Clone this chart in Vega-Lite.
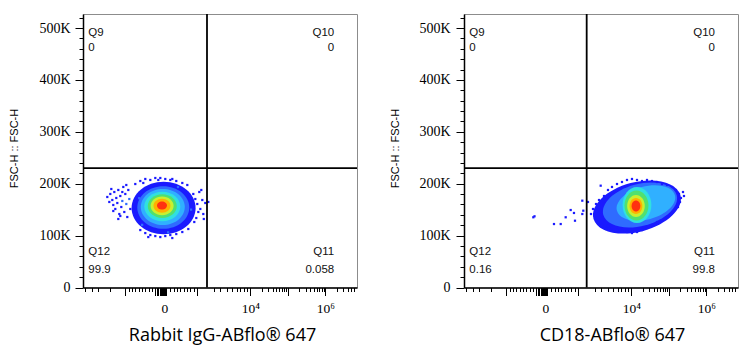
{
  "$schema": "https://vega.github.io/schema/vega-lite/v6.json",
  "background": "white",
  "padding": {"left": 8, "top": 10, "right": 5, "bottom": 5},
  "config": {
    "view": {"stroke": "#8c8c8c", "strokeWidth": 1},
    "axis": {"grid": false}
  },
  "resolve": {"scale": {"size": "independent", "color": "independent"}},
  "spacing": 107,
  "bounds": "flush",
  "datasets": {
    "blobL": [
      {"x": 301.2, "y": 153200, "level": 1},
      {"x": 300, "y": 154200, "level": 2},
      {"x": 298.2, "y": 155100, "level": 3},
      {"x": 296.3, "y": 156100, "level": 4},
      {"x": 296.3, "y": 157000, "level": 5},
      {"x": 295.6, "y": 157400, "level": 6},
      {"x": 295.2, "y": 157600, "level": 7},
      {"x": 295.2, "y": 158000, "level": 8}
    ],
    "dotsL": [
      {"x": 90.8, "y": 174400, "level": 1}, {"x": 98.3, "y": 164800, "level": 1}, {"x": 102, "y": 180200, "level": 1},
      {"x": 109.5, "y": 168600, "level": 1}, {"x": 113.2, "y": 159000, "level": 1}, {"x": 117, "y": 184000, "level": 1},
      {"x": 120.7, "y": 151300, "level": 1}, {"x": 124.4, "y": 172500, "level": 1}, {"x": 128.2, "y": 162800, "level": 1},
      {"x": 131.9, "y": 187900, "level": 1}, {"x": 135.7, "y": 141600, "level": 1}, {"x": 139.4, "y": 176300, "level": 1},
      {"x": 143.1, "y": 155100, "level": 1}, {"x": 146.9, "y": 166700, "level": 2}, {"x": 150.6, "y": 193700, "level": 1},
      {"x": 154.3, "y": 145500, "level": 1}, {"x": 158.1, "y": 180200, "level": 1}, {"x": 161.8, "y": 160900, "level": 2},
      {"x": 165.5, "y": 135800, "level": 1}, {"x": 169.3, "y": 187900, "level": 1}, {"x": 173, "y": 170500, "level": 2},
      {"x": 176.8, "y": 151300, "level": 1}, {"x": 105.8, "y": 189800, "level": 1}, {"x": 131.9, "y": 132000, "level": 1},
      {"x": 146.9, "y": 184000, "level": 1}, {"x": 161.8, "y": 197500, "level": 1}, {"x": 113.2, "y": 147400, "level": 1},
      {"x": 139.4, "y": 137800, "level": 1},
      {"x": 195.4, "y": 199400, "level": 1}, {"x": 214.1, "y": 205200, "level": 1}, {"x": 232.8, "y": 209100, "level": 1},
      {"x": 251.5, "y": 207200, "level": 1}, {"x": 270.2, "y": 211000, "level": 1}, {"x": 288.9, "y": 211000, "level": 1},
      {"x": 307.5, "y": 209100, "level": 1}, {"x": 326.2, "y": 207200, "level": 1}, {"x": 348.6, "y": 205200, "level": 1},
      {"x": 371.1, "y": 201400, "level": 1}, {"x": 389.8, "y": 197500, "level": 1}, {"x": 225.3, "y": 201400, "level": 1},
      {"x": 281.4, "y": 207200, "level": 1}, {"x": 333.7, "y": 209100, "level": 1},
      {"x": 412.2, "y": 180200, "level": 1}, {"x": 419.7, "y": 170500, "level": 1}, {"x": 427.1, "y": 160900, "level": 1},
      {"x": 434.6, "y": 184000, "level": 1}, {"x": 438.4, "y": 151300, "level": 1}, {"x": 445.8, "y": 168600, "level": 1},
      {"x": 449.6, "y": 141600, "level": 1}, {"x": 457, "y": 162800, "level": 1}, {"x": 468.3, "y": 164800, "level": 1},
      {"x": 423.4, "y": 133900, "level": 1}, {"x": 430.9, "y": 145500, "level": 1}, {"x": 442.1, "y": 187900, "level": 1},
      {"x": 415.9, "y": 126200, "level": 1}, {"x": 451.5, "y": 132000, "level": 1},
      {"x": 214.1, "y": 110700, "level": 1}, {"x": 232.8, "y": 104900, "level": 1}, {"x": 251.5, "y": 101100, "level": 1},
      {"x": 270.2, "y": 99100, "level": 1}, {"x": 288.9, "y": 97200, "level": 1}, {"x": 307.5, "y": 99100, "level": 1},
      {"x": 326.2, "y": 101100, "level": 1}, {"x": 348.6, "y": 103000, "level": 1}, {"x": 371.1, "y": 106900, "level": 1},
      {"x": 393.5, "y": 112700, "level": 1}, {"x": 244, "y": 97200, "level": 1}, {"x": 333.7, "y": 95300, "level": 1},
      {"x": 404, "y": 150100, "level": 2}, {"x": 396, "y": 171000, "level": 1}, {"x": 355, "y": 193500, "level": 2},
      {"x": 262, "y": 196300, "level": 1}, {"x": 210, "y": 172100, "level": 2}, {"x": 198, "y": 146200, "level": 1},
      {"x": 221, "y": 120700, "level": 2}, {"x": 318, "y": 106300, "level": 2}, {"x": 386, "y": 122500, "level": 1}
    ],
    "blobR": [
      {"x": 646.5, "y": 155100, "level": 1},
      {"x": 657.7, "y": 159000, "level": 2},
      {"x": 680.1, "y": 162800, "level": 3},
      {"x": 646.5, "y": 159000, "level": 4},
      {"x": 644.6, "y": 158000, "level": 5},
      {"x": 642.7, "y": 157000, "level": 6},
      {"x": 642.7, "y": 157000, "level": 7},
      {"x": 642.7, "y": 157000, "level": 8}
    ],
    "dotsR": [
      {"x": 474.6, "y": 141600, "level": 1}, {"x": 482.1, "y": 151300, "level": 1}, {"x": 489.5, "y": 132000, "level": 1},
      {"x": 493.3, "y": 160900, "level": 1}, {"x": 500.8, "y": 126200, "level": 1}, {"x": 508.2, "y": 145500, "level": 1},
      {"x": 515.7, "y": 120400, "level": 1}, {"x": 504.5, "y": 168600, "level": 1}, {"x": 523.2, "y": 176300, "level": 1},
      {"x": 530.7, "y": 112700, "level": 1},
      {"x": 538.1, "y": 187900, "level": 1}, {"x": 553.1, "y": 193700, "level": 1}, {"x": 571.8, "y": 199400, "level": 1},
      {"x": 590.4, "y": 203300, "level": 1}, {"x": 609.1, "y": 207200, "level": 1}, {"x": 627.8, "y": 209100, "level": 1},
      {"x": 646.5, "y": 207200, "level": 1}, {"x": 665.2, "y": 205200, "level": 1}, {"x": 683.9, "y": 207200, "level": 1},
      {"x": 702.6, "y": 205200, "level": 1}, {"x": 721.2, "y": 203300, "level": 1}, {"x": 739.9, "y": 199400, "level": 1},
      {"x": 758.6, "y": 197500, "level": 1}, {"x": 777.3, "y": 193700, "level": 1},
      {"x": 792.2, "y": 187900, "level": 1}, {"x": 803.5, "y": 180200, "level": 1}, {"x": 810.9, "y": 172500, "level": 1},
      {"x": 818.4, "y": 184000, "level": 1}, {"x": 807.2, "y": 164800, "level": 1}, {"x": 799.7, "y": 155100, "level": 1},
      {"x": 822.1, "y": 176300, "level": 1},
      {"x": 777.3, "y": 143600, "level": 1}, {"x": 758.6, "y": 135800, "level": 1}, {"x": 739.9, "y": 130000, "level": 1},
      {"x": 721.2, "y": 126200, "level": 1}, {"x": 702.6, "y": 120400, "level": 1}, {"x": 683.9, "y": 114600, "level": 1},
      {"x": 665.2, "y": 110700, "level": 1}, {"x": 646.5, "y": 106900, "level": 1}, {"x": 627.8, "y": 104900, "level": 1},
      {"x": 609.1, "y": 106900, "level": 1}, {"x": 590.4, "y": 108800, "level": 1}, {"x": 571.8, "y": 110700, "level": 1},
      {"x": 553.1, "y": 114600, "level": 1}, {"x": 538.1, "y": 118400, "level": 1},
      {"x": 259, "y": 135300, "level": 1}, {"x": 263.5, "y": 137200, "level": 1}, {"x": 336.3, "y": 122300, "level": 1},
      {"x": 361.4, "y": 122300, "level": 1}, {"x": 380, "y": 135300, "level": 1}, {"x": 398.7, "y": 149300, "level": 1},
      {"x": 411, "y": 143600, "level": 1}, {"x": 414.8, "y": 128700, "level": 1}, {"x": 442.1, "y": 167300, "level": 1},
      {"x": 442.1, "y": 141600, "level": 1}, {"x": 445.8, "y": 148000, "level": 1}, {"x": 463.4, "y": 164800, "level": 1},
      {"x": 510.8, "y": 196200, "level": 1}
    ],
    "labL": [
      {"x": 20, "y": 490400, "t": "Q9", "side": "l"}, {"x": 20, "y": 461400, "t": "0", "side": "l"},
      {"x": 939, "y": 490400, "t": "Q10", "side": "r"}, {"x": 939, "y": 461400, "t": "0", "side": "r"},
      {"x": 20, "y": 68400, "t": "Q12", "side": "l"}, {"x": 20, "y": 33700, "t": "99.9", "side": "l"},
      {"x": 939, "y": 68400, "t": "Q11", "side": "r"}, {"x": 939, "y": 33700, "t": "0.058", "side": "r"}
    ],
    "labR": [
      {"x": 20, "y": 490400, "t": "Q9", "side": "l"}, {"x": 20, "y": 461400, "t": "0", "side": "l"},
      {"x": 938, "y": 490400, "t": "Q10", "side": "r"}, {"x": 938, "y": 461400, "t": "0", "side": "r"},
      {"x": 20, "y": 68400, "t": "Q12", "side": "l"}, {"x": 20, "y": 33700, "t": "0.16", "side": "l"},
      {"x": 938, "y": 68400, "t": "Q11", "side": "r"}, {"x": 938, "y": 33700, "t": "99.8", "side": "r"}
    ]
  },
  "hconcat": [
    {
      "width": 274,
      "height": 273.5,
      "encoding": {
        "x": {
          "field": "x", "type": "quantitative",
          "scale": {"domain": [0, 1024], "nice": false, "zero": false},
          "axis": {
            "values": [8.6,33.6,57.2,102,158.1,170.4,183.1,195.4,207.8,220.5,232.8,245.1,257.9,270.9,276.5,282.1,287.7,291.5,295.2,299,303.8,308.3,312,326.2,338.6,351.3,363.6,375.9,388.6,401,413.3,426,488,513.1,538.1,556.8,575.5,587.8,600.2,612.9,625.2,667.4,692.1,709.7,723.1,734.3,743.7,751.9,759,765.3,807.6,832.2,849.8,863.2,874.5,883.8,892,899.1,905.5,947.7,972.4,989.9,1003.4,1014.6],
            "labelExpr": "datum.value == 303.8 ? '0' : datum.value == 625.2 ? '10⁴' : datum.value == 905.5 ? '10⁶' : ''",
            "tickSize": {"condition": {"test": "(datum.value > 268 && datum.value < 316) || datum.value == 158.1 || datum.value == 426 || datum.value == 625.2 || datum.value == 765.3 || datum.value == 905.5", "value": 8}, "value": 4},
            "tickColor": "#000", "tickWidth": 1, "domainColor": "#000", "domainWidth": 1.5,
            "labelFont": "Liberation Serif", "labelFontSize": 13.5, "labelColor": "#000", "labelPadding": 6,
            "labelOverlap": false, "labelFlush": false,
            "title": "Rabbit IgG-ABflo® 647", "titleFont": "Open Sans", "titleFontSize": 18, "titleFontWeight": "normal",
            "titleColor": "#000", "titleX": 139, "titleY": 53, "titleBaseline": "alphabetic"
          }
        },
        "y": {
          "field": "y", "type": "quantitative",
          "scale": {"domain": [0, 527000], "nice": false, "zero": false},
          "axis": {
            "values": [0,20000,40000,60000,80000,100000,120000,140000,160000,180000,200000,220000,240000,260000,280000,300000,320000,340000,360000,380000,400000,420000,440000,460000,480000,500000,520000],
            "labelExpr": "datum.value % 100000 == 0 ? (datum.value == 0 ? '0' : (datum.value / 1000) + 'K') : ''",
            "tickSize": {"condition": {"test": "datum.value % 100000 == 0", "value": 8}, "value": 4},
            "tickColor": "#000", "tickWidth": 1, "domainColor": "#000", "domainWidth": 1.5,
            "labelFont": "Liberation Serif", "labelFontSize": 14, "labelColor": "#000", "labelPadding": 5,
            "labelOverlap": false, "labelFlush": false,
            "title": "FSC-H :: FSC-H", "titleFont": "Liberation Sans", "titleFontSize": 11, "titleFontWeight": "normal",
            "titleColor": "#000", "titleX": -68.5, "titleY": 134, "titleBaseline": "middle"
          }
        }
      },
      "layer": [
        {
          "data": {"name": "blobL"},
          "mark": {"type": "point", "filled": true, "opacity": 1, "strokeWidth": 0, "shape": "M -1 0 A 1 0.82 0 1 1 1 0 A 1 0.82 0 1 1 -1 0 Z"},
          "encoding": {
            "size": {"field": "level", "type": "quantitative", "legend": null, "scale": {"type": "threshold", "domain": [1.5,2.5,3.5,4.5,5.5,6.5,7.5], "range": [4096,2704,1936,1296,841,529,289,100]}},
            "color": {"field": "level", "type": "quantitative", "legend": null, "scale": {"type": "threshold", "domain": [1.5,2.5,3.5,4.5,5.5,6.5,7.5], "range": ["#1a1aff","#2f6bff","#30b0ff","#30e0e0","#50e070","#c8f030","#ffb000","#ff3010"]}}
          }
        },
        {
          "data": {"name": "dotsL"},
          "mark": {"type": "square", "size": 5, "opacity": 1},
          "encoding": {
            "color": {"field": "level", "type": "quantitative", "legend": null, "scale": {"type": "threshold", "domain": [1.5,2.5,3.5,4.5,5.5,6.5,7.5], "range": ["#1a1aff","#2f6bff","#30b0ff","#30e0e0","#50e070","#c8f030","#ffb000","#ff3010"]}}
          }
        },
        {
          "data": {"values": [{"x": 463.4, "y": 0, "y2": 527000}]},
          "mark": {"type": "rule", "color": "#000", "strokeWidth": 1.8},
          "encoding": {"y2": {"field": "y2"}}
        },
        {
          "data": {"values": [{"x": 0, "x2": 1024, "y": 230000}]},
          "mark": {"type": "rule", "color": "#000", "strokeWidth": 1.8},
          "encoding": {"x2": {"field": "x2"}}
        },
        {
          "data": {"name": "labL"},
          "transform": [{"filter": "datum.side == 'l'"}],
          "mark": {"type": "text", "align": "left", "baseline": "middle", "font": "Liberation Sans", "fontSize": 11.5, "color": "#111"},
          "encoding": {"text": {"field": "t"}}
        },
        {
          "data": {"name": "labL"},
          "transform": [{"filter": "datum.side == 'r'"}],
          "mark": {"type": "text", "align": "right", "baseline": "middle", "font": "Liberation Sans", "fontSize": 11.5, "color": "#111"},
          "encoding": {"text": {"field": "t"}}
        }
      ]
    },
    {
      "width": 274,
      "height": 273.5,
      "encoding": {
        "x": {
          "field": "x", "type": "quantitative",
          "scale": {"domain": [0, 1024], "nice": false, "zero": false},
          "axis": {
            "values": [8.6,33.6,57.2,102,158.1,170.4,183.1,195.4,207.8,220.5,232.8,245.1,257.9,270.9,276.5,282.1,287.7,291.5,295.2,299,303.8,308.3,312,326.2,338.6,351.3,363.6,375.9,388.6,401,413.3,426,488,513.1,538.1,556.8,575.5,587.8,600.2,612.9,625.2,667.4,692.1,709.7,723.1,734.3,743.7,751.9,759,765.3,807.6,832.2,849.8,863.2,874.5,883.8,892,899.1,905.5,947.7,972.4,989.9,1003.4,1014.6],
            "labelExpr": "datum.value == 303.8 ? '0' : datum.value == 625.2 ? '10⁴' : datum.value == 905.5 ? '10⁶' : ''",
            "tickSize": {"condition": {"test": "(datum.value > 268 && datum.value < 316) || datum.value == 158.1 || datum.value == 426 || datum.value == 625.2 || datum.value == 765.3 || datum.value == 905.5", "value": 8}, "value": 4},
            "tickColor": "#000", "tickWidth": 1, "domainColor": "#000", "domainWidth": 1.5,
            "labelFont": "Liberation Serif", "labelFontSize": 13.5, "labelColor": "#000", "labelPadding": 6,
            "labelOverlap": false, "labelFlush": false,
            "title": "CD18-ABflo® 647", "titleFont": "Open Sans", "titleFontSize": 18, "titleFontWeight": "normal",
            "titleColor": "#000", "titleX": 148, "titleY": 53, "titleBaseline": "alphabetic"
          }
        },
        "y": {
          "field": "y", "type": "quantitative",
          "scale": {"domain": [0, 527000], "nice": false, "zero": false},
          "axis": {
            "values": [0,20000,40000,60000,80000,100000,120000,140000,160000,180000,200000,220000,240000,260000,280000,300000,320000,340000,360000,380000,400000,420000,440000,460000,480000,500000,520000],
            "labelExpr": "datum.value % 100000 == 0 ? (datum.value == 0 ? '0' : (datum.value / 1000) + 'K') : ''",
            "tickSize": {"condition": {"test": "datum.value % 100000 == 0", "value": 8}, "value": 4},
            "tickColor": "#000", "tickWidth": 1, "domainColor": "#000", "domainWidth": 1.5,
            "labelFont": "Liberation Serif", "labelFontSize": 14, "labelColor": "#000", "labelPadding": 6,
            "labelOverlap": false, "labelFlush": false,
            "title": "FSC-H :: FSC-H", "titleFont": "Liberation Sans", "titleFontSize": 11, "titleFontWeight": "normal",
            "titleColor": "#000", "titleX": -68.5, "titleY": 134, "titleBaseline": "middle"
          }
        }
      },
      "layer": [
        {
          "data": {"name": "blobR"},
          "transform": [{"filter": "datum.level <= 3"}],
          "mark": {"type": "point", "filled": true, "opacity": 1, "strokeWidth": 0, "angle": 345, "shape": "M -1 0 A 1 0.55 0 1 1 1 0 A 1 0.55 0 1 1 -1 0 Z"},
          "encoding": {
            "size": {"field": "level", "type": "quantitative", "legend": null, "scale": {"type": "threshold", "domain": [1.5,2.5,3.5,4.5,5.5,6.5,7.5], "range": [8100,5776,3600,1296,900,484,256,121]}},
            "color": {"field": "level", "type": "quantitative", "legend": null, "scale": {"type": "threshold", "domain": [1.5,2.5,3.5,4.5,5.5,6.5,7.5], "range": ["#1a1aff","#2f6bff","#30b0ff","#30e0e0","#50e070","#c8f030","#ffb000","#ff3010"]}}
          }
        },
        {
          "data": {"name": "blobR"},
          "transform": [{"filter": "datum.level > 3"}],
          "mark": {"type": "point", "filled": true, "opacity": 1, "strokeWidth": 0, "shape": "M 0 -1 A 0.8 1 0 1 1 0 1 A 0.8 1 0 1 1 0 -1 Z"},
          "encoding": {
            "size": {"field": "level", "type": "quantitative", "legend": null, "scale": {"type": "threshold", "domain": [1.5,2.5,3.5,4.5,5.5,6.5,7.5], "range": [8100,5776,3600,1296,900,484,256,121]}},
            "color": {"field": "level", "type": "quantitative", "legend": null, "scale": {"type": "threshold", "domain": [1.5,2.5,3.5,4.5,5.5,6.5,7.5], "range": ["#1a1aff","#2f6bff","#30b0ff","#30e0e0","#50e070","#c8f030","#ffb000","#ff3010"]}}
          }
        },
        {
          "data": {"name": "dotsR"},
          "mark": {"type": "square", "size": 5, "opacity": 1},
          "encoding": {
            "color": {"field": "level", "type": "quantitative", "legend": null, "scale": {"type": "threshold", "domain": [1.5,2.5,3.5,4.5,5.5,6.5,7.5], "range": ["#1a1aff","#2f6bff","#30b0ff","#30e0e0","#50e070","#c8f030","#ffb000","#ff3010"]}}
          }
        },
        {
          "data": {"values": [{"x": 458.5, "y": 0, "y2": 527000}]},
          "mark": {"type": "rule", "color": "#000", "strokeWidth": 1.8},
          "encoding": {"y2": {"field": "y2"}}
        },
        {
          "data": {"values": [{"x": 0, "x2": 1024, "y": 230000}]},
          "mark": {"type": "rule", "color": "#000", "strokeWidth": 1.8},
          "encoding": {"x2": {"field": "x2"}}
        },
        {
          "data": {"name": "labR"},
          "transform": [{"filter": "datum.side == 'l'"}],
          "mark": {"type": "text", "align": "left", "baseline": "middle", "font": "Liberation Sans", "fontSize": 11.5, "color": "#111"},
          "encoding": {"text": {"field": "t"}}
        },
        {
          "data": {"name": "labR"},
          "transform": [{"filter": "datum.side == 'r'"}],
          "mark": {"type": "text", "align": "right", "baseline": "middle", "font": "Liberation Sans", "fontSize": 11.5, "color": "#111"},
          "encoding": {"text": {"field": "t"}}
        }
      ]
    }
  ]
}
